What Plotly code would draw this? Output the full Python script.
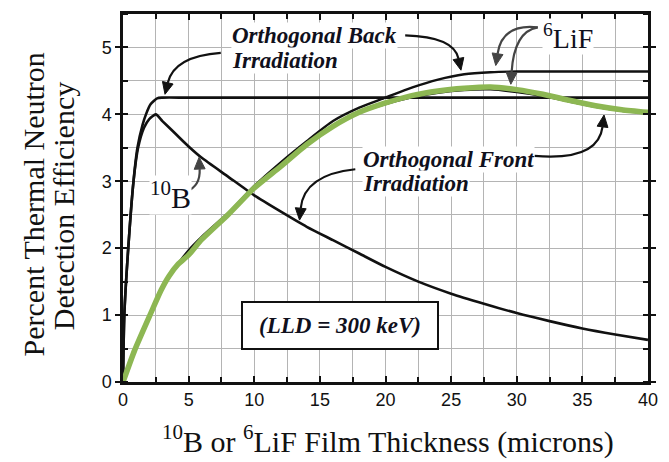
import math
import plotly.graph_objects as go

# ---------------- data ----------------
x_b_back = [0, 0.1, 0.4, 0.8, 1.1, 1.5, 1.75, 2.1, 2.6, 3, 5, 40]
y_b_back = [0, 1.0, 2.0, 3.0, 3.5, 3.85, 4.0, 4.15, 4.24, 4.25, 4.25, 4.25]

x_b_front = [0, 0.1, 0.4, 0.8, 1.15, 1.6, 2.0, 2.5, 3, 4, 5, 6, 8, 10, 12, 14,
             16, 18, 20, 22.5, 25, 27.5, 30, 32.5, 35, 37.5, 40]
y_b_front = [0, 1.0, 2.0, 3.0, 3.5, 3.8, 3.93, 4.0, 3.9, 3.71, 3.52, 3.35, 3.07,
             2.79, 2.55, 2.32, 2.12, 1.92, 1.72, 1.5, 1.32, 1.17, 1.03, 0.91,
             0.8, 0.71, 0.63]

x_lif_back = [0, 0.9, 2.1, 2.9, 3.5, 4.2, 5, 6, 7.3, 8, 10, 12, 14, 16, 18, 20,
              22, 24, 26, 28, 30, 40]
y_lif_back = [0, 0.48, 1.02, 1.37, 1.58, 1.77, 1.97, 2.17, 2.40, 2.52, 2.93,
              3.28, 3.6, 3.9, 4.1, 4.25, 4.4, 4.52, 4.6, 4.63, 4.64, 4.64]

x_lif_front = [0, 0.9, 2.1, 2.9, 3.5, 4.2, 5, 6, 8, 10, 12, 14, 16, 18, 20, 22,
               24, 26, 28, 30, 32, 34, 36, 38, 40]
y_lif_front = [0, 0.48, 1.02, 1.37, 1.58, 1.76, 1.9, 2.13, 2.5, 2.9, 3.22, 3.55,
               3.82, 4.03, 4.17, 4.28, 4.35, 4.39, 4.41, 4.37, 4.3, 4.21, 4.13,
               4.07, 4.03]
# thin black line drawn underneath the green one
y_lif_front_black = [0, 0.48, 1.02, 1.37, 1.58, 1.76, 1.9, 2.13, 2.5, 2.9, 3.22,
                     3.55, 3.82, 4.02, 4.15, 4.25, 4.32, 4.36, 4.37, 4.33, 4.27,
                     4.19, 4.11, 4.05, 4.01]

x_ticks = [0, 5, 10, 15, 20, 25, 30, 35, 40]
y_ticks = [0, 1, 2, 3, 4, 5]

X_RANGE = [0, 40]
Y_RANGE = [0, 5.5]
W, H = 669, 462
ML, MR, MT, MB = 123, 17, 11, 80

# ---------------- figure ----------------
fig = go.Figure()
BLACK = "#111111"
GREEN = "#8DB753"

fig.add_trace(go.Scatter(x=x_b_back, y=y_b_back, mode="lines",
                         line=dict(color=BLACK, width=2.6, shape="spline", smoothing=0.6)))
fig.add_trace(go.Scatter(x=x_b_front, y=y_b_front, mode="lines",
                         line=dict(color=BLACK, width=2.6, shape="spline", smoothing=0.6)))
fig.add_trace(go.Scatter(x=x_lif_back, y=y_lif_back, mode="lines",
                         line=dict(color=BLACK, width=2.4, shape="spline", smoothing=0.6)))
fig.add_trace(go.Scatter(x=x_lif_front, y=y_lif_front_black, mode="lines",
                         line=dict(color=BLACK, width=2, shape="spline", smoothing=0.6)))
fig.add_trace(go.Scatter(x=x_lif_front, y=y_lif_front, mode="lines",
                         line=dict(color=GREEN, width=5.5, shape="spline", smoothing=0.6)))

SERIF = "Liberation Serif, Times New Roman, serif"
SANS = "Liberation Sans, Arial, sans-serif"
GRID = "#B4B4B4"

fig.update_xaxes(range=X_RANGE, tickvals=x_ticks, ticks="inside", ticklen=6,
                 tickwidth=2, tickcolor=BLACK, showline=True, linecolor=BLACK,
                 linewidth=2.5, mirror="ticks", showgrid=True, gridcolor=GRID,
                 gridwidth=1, zeroline=False,
                 tickfont=dict(family=SANS, size=18, color=BLACK),
                 minor=dict(dtick=2.5, ticks="inside", ticklen=5, tickwidth=2,
                            tickcolor=BLACK, showgrid=True, gridcolor=GRID, gridwidth=1))
fig.update_yaxes(range=Y_RANGE, tickvals=y_ticks, ticks="outside", ticklen=5,
                 tickwidth=2, tickcolor=BLACK, showline=True, linecolor=BLACK,
                 linewidth=2.5, mirror="ticks", showgrid=True, gridcolor=GRID,
                 gridwidth=1, zeroline=False,
                 tickfont=dict(family=SANS, size=18, color=BLACK),
                 minor=dict(dtick=0.5, ticks="inside", ticklen=5, tickwidth=2,
                            tickcolor=BLACK, showgrid=True, gridcolor=GRID, gridwidth=1))

annotations = []
shapes = []

# pixels per data unit (for arrowhead geometry)
SX = (W - ML - MR) / (X_RANGE[1] - X_RANGE[0])
SY = (H - MT - MB) / (Y_RANGE[1] - Y_RANGE[0])


def text(x, y, s, size=23, bold_italic=True, bg="white", xanchor="left"):
    if bold_italic:
        s = "<b><i>" + s + "</i></b>"
    annotations.append(dict(x=x, y=y, xref="x", yref="y", text=s, showarrow=False,
                            xanchor=xanchor, yanchor="middle", bgcolor=bg, borderpad=0,
                            font=dict(family=SERIF, size=size, color="#10101c")))


def curved_arrow(p0, c, tip, color, head_len=12, head_half=5.5):
    # direction of the curve at its end, in pixel space
    dx = (tip[0] - c[0]) * SX
    dy = (tip[1] - c[1]) * SY
    n = math.hypot(dx, dy)
    ux, uy = dx / n, dy / n
    # base of the arrowhead (pixel offsets converted back to data units)
    bx = tip[0] - ux * head_len / SX
    by = tip[1] - uy * head_len / SY
    # curve ends at the base of the head
    shapes.append(dict(type="path", xref="x", yref="y",
                       path=f"M {p0[0]},{p0[1]} Q {c[0]},{c[1]} {bx},{by}",
                       line=dict(color=color, width=2.2)))
    lx = bx - uy * head_half / SX
    ly = by + ux * head_half / SY
    rx = bx + uy * head_half / SX
    ry = by - ux * head_half / SY
    shapes.append(dict(type="path", xref="x", yref="y",
                       path=f"M {tip[0]},{tip[1]} L {lx},{ly} L {rx},{ry} Z",
                       fillcolor=color, line=dict(color=color, width=1)))


# text labels
text(8.23, 5.18, "Orthogonal Back")
text(8.23, 4.81, "Irradiation")
text(18.2, 3.32, "Orthogonal Front")
text(18.2, 2.97, "Irradiation")
text(31.9, 5.16, "<sup>6</sup>LiF", size=28, bold_italic=False)
text(1.95, 2.8, "<sup>10</sup>B", size=30, bold_italic=False)

# LLD box
annotations.append(dict(x=16.55, y=0.84, xref="x", yref="y",
                        text="<b><i>(LLD = 300 keV)</i></b>", showarrow=False,
                        xanchor="center", yanchor="middle", bgcolor="white",
                        bordercolor=BLACK, borderwidth=2, width=192, height=43,
                        font=dict(family=SERIF, size=23, color="#10101c")))

# arrows
curved_arrow((7.45, 4.92), (3.9, 4.87), (3.2, 4.30), BLACK)
curved_arrow((21.5, 5.18), (25.2, 5.16), (25.75, 4.66), BLACK)
curved_arrow((31.6, 5.30), (28.9, 5.36), (28.4, 4.73), "#444444")
curved_arrow((31.6, 5.30), (29.8, 5.24), (29.55, 4.45), "#444444")
curved_arrow((17.7, 3.18), (13.8, 3.1), (13.45, 2.42), BLACK)
curved_arrow((31.35, 3.38), (36.2, 3.3), (36.65, 3.99), BLACK)
curved_arrow((4.85, 2.85), (5.9, 2.93), (5.8, 3.36), "#444444")

# axis titles
annotations.append(dict(x=-0.171, y=0.483, xref="paper", yref="paper",
                        text="Percent Thermal Neutron", textangle=-90,
                        showarrow=False, xanchor="center", yanchor="middle",
                        font=dict(family=SERIF, size=30, color=BLACK)))
annotations.append(dict(x=-0.114, y=0.478, xref="paper", yref="paper",
                        text="Detection Efficiency", textangle=-90,
                        showarrow=False, xanchor="center", yanchor="middle",
                        font=dict(family=SERIF, size=30, color=BLACK)))
annotations.append(dict(x=0.505, y=-0.155, xref="paper", yref="paper",
                        text="<sup>10</sup>B or <sup>6</sup>LiF Film Thickness (microns)",
                        showarrow=False, xanchor="center", yanchor="middle",
                        font=dict(family=SERIF, size=30, color=BLACK)))

fig.update_layout(width=W, height=H, showlegend=False,
                  margin=dict(l=ML, r=MR, t=MT, b=MB),
                  paper_bgcolor="white", plot_bgcolor="white",
                  annotations=annotations, shapes=shapes)

fig.write_html("out.html")
